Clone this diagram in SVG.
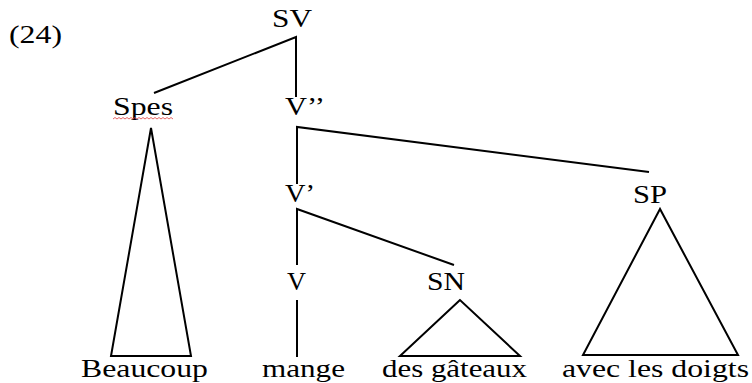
<svg xmlns="http://www.w3.org/2000/svg" width="752" height="383" viewBox="0 0 752 383">
<style>
.e{stroke:#000;stroke-width:2;fill:none;stroke-linejoin:miter}
</style>
<rect width="752" height="383" fill="#fff"/>
<g font-family="Liberation Serif, Times New Roman, serif" font-size="26" fill="#000">
<text x="9" y="43" textLength="53" lengthAdjust="spacingAndGlyphs">(24)</text>
</g>
<g id="connectors">
<polyline class="e" points="154,93 296,37 296,97"/>
<polyline class="e" points="297,184 297,127 649,172"/>
<polyline class="e" points="297,265 297,209 454,265"/>
<line class="e" x1="297" y1="300" x2="297" y2="357"/>
<polygon class="e" points="151,128 111,356 191,356"/>
<polygon class="e" points="460,300 400,356 520,356"/>
<polygon class="e" points="660,209 583,355 738,355"/>
</g>
<g font-family="Liberation Serif, Times New Roman, serif" font-size="26" fill="#000">
<g id="SV"><text x="272" y="27" textLength="40" lengthAdjust="spacingAndGlyphs">SV</text></g>
<g id="Spes"><text x="113" y="115" textLength="60" lengthAdjust="spacingAndGlyphs">Spes</text>
<path d="M113,119 l2,-1.5 l2,1.5 l2,-1.5 l2,1.5 l2,-1.5 l2,1.5 l2,-1.5 l2,1.5 l2,-1.5 l2,1.5 l2,-1.5 l2,1.5 l2,-1.5 l2,1.5 l2,-1.5 l2,1.5 l2,-1.5 l2,1.5 l2,-1.5 l2,1.5 l2,-1.5 l2,1.5 l2,-1.5 l2,1.5 l2,-1.5 l2,1.5 l2,-1.5 l2,1.5 l2,-1.5 l2,1.5" fill="none" stroke="#e04040" stroke-width="0.8"/></g>
<g id="V2"><text x="285" y="115" textLength="40" lengthAdjust="spacingAndGlyphs">V’’</text></g>
<g id="V1"><text x="285" y="202" textLength="30" lengthAdjust="spacingAndGlyphs">V’</text></g>
<g id="SP"><text x="633" y="203" textLength="34" lengthAdjust="spacingAndGlyphs">SP</text></g>
<g id="V"><text x="287" y="290" textLength="19" lengthAdjust="spacingAndGlyphs">V</text></g>
<g id="SN"><text x="427" y="290" textLength="38" lengthAdjust="spacingAndGlyphs">SN</text></g>
<g id="Beaucoup"><text x="81" y="377" textLength="127" lengthAdjust="spacingAndGlyphs">Beaucoup</text></g>
<g id="mange"><text x="262" y="377" textLength="83" lengthAdjust="spacingAndGlyphs">mange</text></g>
<g id="desgateaux"><text x="382" y="377" textLength="145" lengthAdjust="spacingAndGlyphs">des gâteaux</text></g>
<g id="avec"><text x="562" y="377" textLength="187" lengthAdjust="spacingAndGlyphs">avec les doigts</text></g>
</g>
</svg>
